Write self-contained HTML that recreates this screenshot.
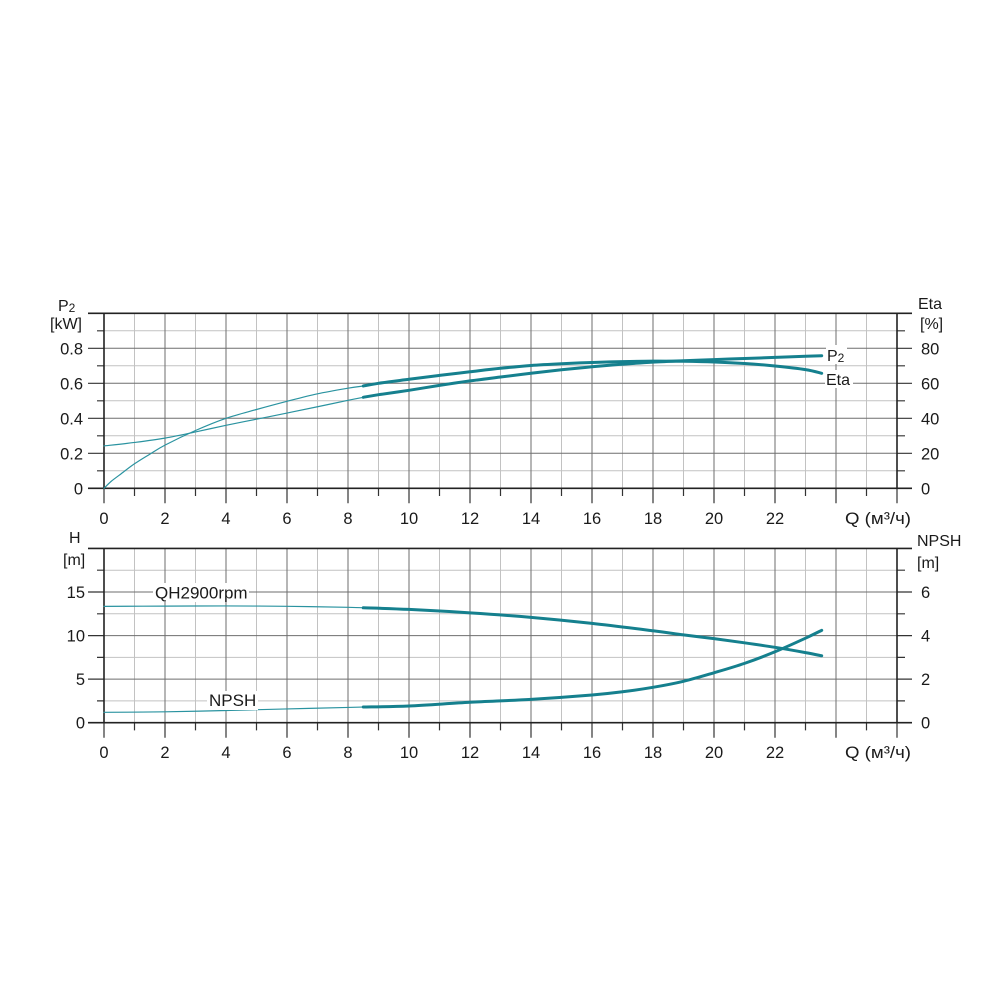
<!DOCTYPE html>
<html><head><meta charset="utf-8"><style>
html,body{margin:0;padding:0;background:#fff;}
svg{display:block;}
text{font-family:"Liberation Sans",Arial,sans-serif;fill:#1a1a1a;}
</style></head><body>
<svg id="chart" width="1000" height="1000" viewBox="0 0 1000 1000" xmlns="http://www.w3.org/2000/svg">
<rect width="1000" height="1000" fill="#fff"/>

<!-- ================= TOP CHART ================= -->
<g fill="none">
  <path stroke="#c2c2c2" stroke-width="1" d="M134.5 313.3V488.3M195.5 313.3V488.3M256.5 313.3V488.3M317.5 313.3V488.3M378.5 313.3V488.3M439.5 313.3V488.3M500.5 313.3V488.3M561.5 313.3V488.3M622.5 313.3V488.3M683.5 313.3V488.3M744.5 313.3V488.3M805.5 313.3V488.3M866.5 313.3V488.3
  M104 470.8H897M104 435.8H897M104 400.8H897M104 365.8H897M104 330.8H897"/>
  <path stroke="#6e6e6e" stroke-width="1" d="M165 313.3V488.3M226 313.3V488.3M287 313.3V488.3M348 313.3V488.3M409 313.3V488.3M470 313.3V488.3M531 313.3V488.3M592 313.3V488.3M653 313.3V488.3M714 313.3V488.3M775 313.3V488.3M836 313.3V488.3
  M104 453.3H897M104 418.3H897M104 383.3H897M104 348.3H897"/>
  <path stroke="#333" stroke-width="1.2" d="M104 488.3V503.3M165 488.3V503.3M226 488.3V503.3M287 488.3V503.3M348 488.3V503.3M409 488.3V503.3M470 488.3V503.3M531 488.3V503.3M592 488.3V503.3M653 488.3V503.3M714 488.3V503.3M775 488.3V503.3M836 488.3V503.3M897 488.3V503.3
  M134.5 488.3V496M195.5 488.3V496M256.5 488.3V496M317.5 488.3V496M378.5 488.3V496M439.5 488.3V496M500.5 488.3V496M561.5 488.3V496M622.5 488.3V496M683.5 488.3V496M744.5 488.3V496M805.5 488.3V496M866.5 488.3V496
  M88 453.3H104M88 418.3H104M88 383.3H104M88 348.3H104
  M97 470.8H104M97 435.8H104M97 400.8H104M97 365.8H104M97 330.8H104
  M897 453.3H912M897 418.3H912M897 383.3H912M897 348.3H912
  M897 470.8H905M897 435.8H905M897 400.8H905M897 365.8H905M897 330.8H905"/>
  <path stroke="#222" stroke-width="1.6" d="M88 313.3H912M88 488.3H912M104 313.3V488.3M897 313.3V488.3"/>
</g>

<!-- top curves -->
<g fill="none" stroke-linecap="round" stroke-linejoin="round">
  <polyline class="sm" stroke="#2a93a0" stroke-width="1.2" points="104,488.3 111,481.5 119.25,475.2 134.5,463.8 149.75,454.2 165,445.1 195.5,430.5 226,418.3 256.5,409.5 287,401.3 317.5,393.8 348,388.2 363.25,386"/>
  <polyline class="sm" stroke="#15808e" stroke-width="3" points="363.25,386 378.5,383.3 409,379.3 439.5,375.4 470,371.8 500.5,368.3 531,365.45 561.5,363.7 592,362.5 622.5,361.6 653,361.1 683.5,361.3 714,362 744.5,363.5 775,366 805.5,369.6 821.7,373.3"/>
  <polyline class="sm" stroke="#2a93a0" stroke-width="1.2" points="104,445.95 134.5,442.45 165,438.1 195.5,431.95 226,425.3 256.5,419.2 287,413.05 317.5,406.75 348,400.3 363.25,397.3"/>
  <polyline class="sm" stroke="#15808e" stroke-width="3" points="363.25,397.3 378.5,394.7 409,390.3 439.5,385.4 470,380.9 500.5,377 531,373.3 561.5,369.8 592,366.8 622.5,364.2 653,362.1 683.5,360.7 714,359.6 744.5,358.5 775,357.4 805.5,356.3 821.7,355.7"/>
</g>

<rect x="826" y="345" width="21" height="19" fill="#fff"/>
<text x="827" y="361" font-size="16">P<tspan font-size="12" dy="1">2</tspan></text>
<rect x="825" y="370" width="28" height="18" fill="#fff"/>
<text x="826" y="385" font-size="16">Eta</text>

<text x="58" y="311" font-size="16">P<tspan font-size="12" dy="1">2</tspan></text>
<text x="50" y="329" font-size="16">[kW]</text>
<text x="918" y="309" font-size="16">Eta</text>
<text x="920" y="329" font-size="16">[%]</text>

<g font-size="16.5" text-anchor="end">
  <text x="83" y="354.3">0.8</text>
  <text x="83" y="389.3">0.6</text>
  <text x="83" y="424.3">0.4</text>
  <text x="83" y="459.3">0.2</text>
  <text x="83" y="494.3">0</text>
</g>
<g font-size="16.5">
  <text x="921" y="354.3">80</text>
  <text x="921" y="389.3">60</text>
  <text x="921" y="424.3">40</text>
  <text x="921" y="459.3">20</text>
  <text x="921" y="494.3">0</text>
</g>
<g font-size="16.5" text-anchor="middle">
  <text x="104" y="524">0</text>
  <text x="165" y="524">2</text>
  <text x="226" y="524">4</text>
  <text x="287" y="524">6</text>
  <text x="348" y="524">8</text>
  <text x="409" y="524">10</text>
  <text x="470" y="524">12</text>
  <text x="531" y="524">14</text>
  <text x="592" y="524">16</text>
  <text x="653" y="524">18</text>
  <text x="714" y="524">20</text>
  <text x="775" y="524">22</text>
</g>
<text x="845" y="524" font-size="16.5" textLength="66" lengthAdjust="spacingAndGlyphs">Q (м³/ч)</text>

<!-- ================= BOTTOM CHART ================= -->
<g fill="none">
  <path stroke="#c2c2c2" stroke-width="1" d="M134.5 548.4V722.7M195.5 548.4V722.7M256.5 548.4V722.7M317.5 548.4V722.7M378.5 548.4V722.7M439.5 548.4V722.7M500.5 548.4V722.7M561.5 548.4V722.7M622.5 548.4V722.7M683.5 548.4V722.7M744.5 548.4V722.7M805.5 548.4V722.7M866.5 548.4V722.7
  M104 700.9H897M104 657.4H897M104 613.8H897M104 570.2H897"/>
  <path stroke="#6e6e6e" stroke-width="1" d="M165 548.4V722.7M226 548.4V722.7M287 548.4V722.7M348 548.4V722.7M409 548.4V722.7M470 548.4V722.7M531 548.4V722.7M592 548.4V722.7M653 548.4V722.7M714 548.4V722.7M775 548.4V722.7M836 548.4V722.7
  M104 679.1H897M104 635.6H897M104 592H897"/>
  <path stroke="#333" stroke-width="1.2" d="M104 722.7V737.7M165 722.7V737.7M226 722.7V737.7M287 722.7V737.7M348 722.7V737.7M409 722.7V737.7M470 722.7V737.7M531 722.7V737.7M592 722.7V737.7M653 722.7V737.7M714 722.7V737.7M775 722.7V737.7M836 722.7V737.7M897 722.7V737.7
  M134.5 722.7V730.4M195.5 722.7V730.4M256.5 722.7V730.4M317.5 722.7V730.4M378.5 722.7V730.4M439.5 722.7V730.4M500.5 722.7V730.4M561.5 722.7V730.4M622.5 722.7V730.4M683.5 722.7V730.4M744.5 722.7V730.4M805.5 722.7V730.4M866.5 722.7V730.4
  M88 679.1H104M88 635.6H104M88 592H104
  M97 700.9H104M97 657.4H104M97 613.8H104M97 570.2H104
  M897 679.1H912M897 635.6H912M897 592H912
  M897 700.9H905M897 657.4H905M897 613.8H905M897 570.2H905"/>
  <path stroke="#222" stroke-width="1.6" d="M88 548.4H912M88 722.7H912M104 548.4V722.7M897 548.4V722.7"/>
</g>

<g fill="none" stroke-linecap="round" stroke-linejoin="round">
  <polyline class="sm" stroke="#2a93a0" stroke-width="1.2" points="104,606.38 165,606.12 226,605.94 287,606.3 348,607.3 363.25,607.78"/>
  <polyline class="sm" stroke="#15808e" stroke-width="3" points="363.25,607.78 409,609.43 470,612.83 531,617.36 592,623.37 653,630.78 683.5,634.87 714,638.62 744.5,642.8 775,647.33 805.5,652.6 821.7,655.78"/>
  <polyline class="sm" stroke="#2a93a0" stroke-width="1.2" points="104,712.33 165,711.81 226,710.5 287,708.93 348,707.45 363.25,707.02"/>
  <polyline class="sm" stroke="#15808e" stroke-width="3" points="363.25,707.02 409,705.97 470,702.31 531,699.35 592,695 622.5,691.77 653,687.33 683.5,681.31 714,672.77 744.5,663.37 775,651.78 805.5,638.18 821.7,630.34"/>
</g>

<rect x="153" y="583" width="96" height="19" fill="#fff"/>
<text x="155" y="598.7" font-size="17">QH2900rpm</text>
<rect x="207" y="691" width="51" height="19" fill="#fff"/>
<text x="209" y="706" font-size="17">NPSH</text>

<text x="69" y="543" font-size="16">H</text>
<text x="63" y="565" font-size="16">[m]</text>
<text x="917" y="546" font-size="16">NPSH</text>
<text x="917" y="568" font-size="16">[m]</text>

<g font-size="16.5" text-anchor="end">
  <text x="85" y="598">15</text>
  <text x="85" y="641.6">10</text>
  <text x="85" y="685.1">5</text>
  <text x="85" y="728.7">0</text>
</g>
<g font-size="16.5">
  <text x="921" y="598">6</text>
  <text x="921" y="641.6">4</text>
  <text x="921" y="685.1">2</text>
  <text x="921" y="728.7">0</text>
</g>
<g font-size="16.5" text-anchor="middle">
  <text x="104" y="758">0</text>
  <text x="165" y="758">2</text>
  <text x="226" y="758">4</text>
  <text x="287" y="758">6</text>
  <text x="348" y="758">8</text>
  <text x="409" y="758">10</text>
  <text x="470" y="758">12</text>
  <text x="531" y="758">14</text>
  <text x="592" y="758">16</text>
  <text x="653" y="758">18</text>
  <text x="714" y="758">20</text>
  <text x="775" y="758">22</text>
</g>
<text x="845" y="758" font-size="16.5" textLength="66" lengthAdjust="spacingAndGlyphs">Q (м³/ч)</text>
</svg>
<script>
(function(){
  var NS="http://www.w3.org/2000/svg";
  var pls=document.querySelectorAll("polyline.sm");
  for(var k=0;k<pls.length;k++){
    var pl=pls[k];
    var raw=pl.getAttribute("points").trim().split(/\s+/);
    var p=[];
    for(var i=0;i<raw.length;i++){var a=raw[i].split(",");p.push([+a[0],+a[1]]);}
    var d="M"+p[0][0]+" "+p[0][1];
    for(var i=0;i<p.length-1;i++){
      var p0=p[i>0?i-1:i],p1=p[i],p2=p[i+1],p3=p[i+2<p.length?i+2:i+1];
      var c1x=p1[0]+(p2[0]-p0[0])/6,c1y=p1[1]+(p2[1]-p0[1])/6;
      var c2x=p2[0]-(p3[0]-p1[0])/6,c2y=p2[1]-(p3[1]-p1[1])/6;
      d+="C"+c1x.toFixed(2)+" "+c1y.toFixed(2)+" "+c2x.toFixed(2)+" "+c2y.toFixed(2)+" "+p2[0]+" "+p2[1];
    }
    var path=document.createElementNS(NS,"path");
    path.setAttribute("d",d);
    path.setAttribute("stroke",pl.getAttribute("stroke"));
    path.setAttribute("stroke-width",pl.getAttribute("stroke-width"));
    path.setAttribute("fill","none");
    path.setAttribute("stroke-linecap","round");
    path.setAttribute("stroke-linejoin","round");
    pl.parentNode.replaceChild(path,pl);
  }
})();
</script>
</body></html>
